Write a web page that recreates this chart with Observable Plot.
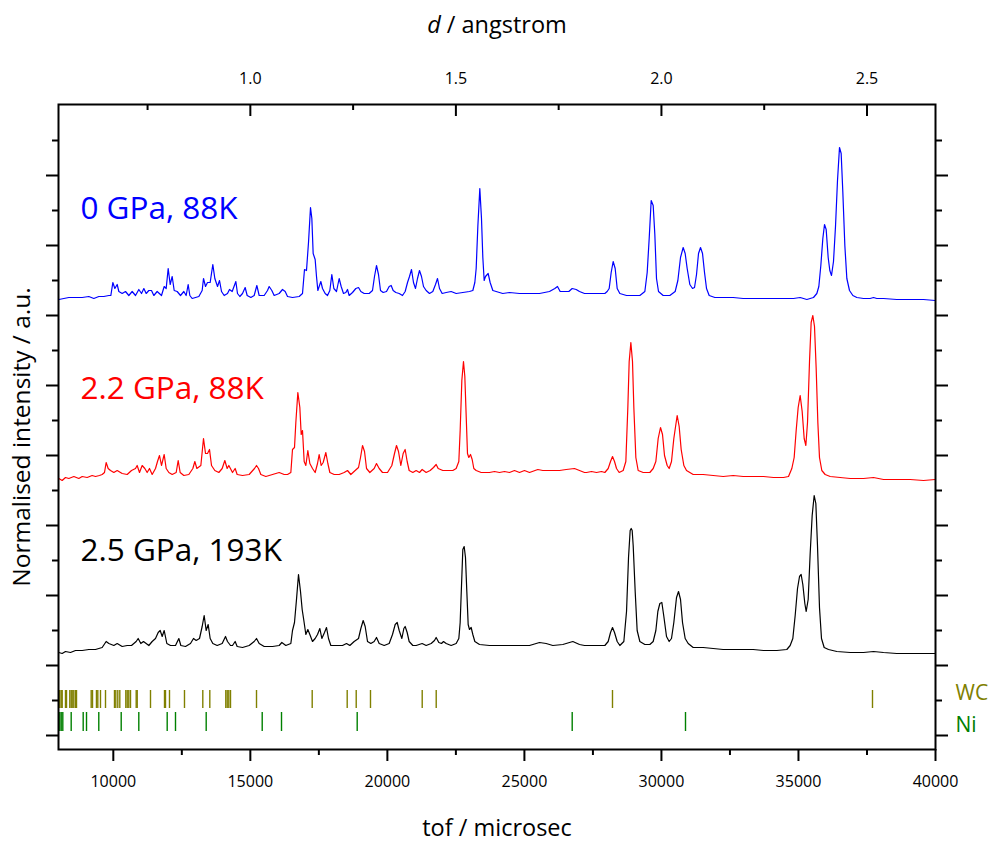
<!DOCTYPE html>
<html>
<head>
<meta charset="utf-8">
<script src="https://cdn.jsdelivr.net/npm/d3@7"></script>
<script src="https://cdn.jsdelivr.net/npm/@observablehq/plot@0.6"></script>
<style>
  html, body { margin: 0; padding: 0; background: #fff; }
  #chart svg { display: block; }
</style>
</head>
<body>
<div id="chart"></div>
<script>
// ---------- data ----------
// Series 1: 0 GPa, 88K (blue)
const tofBlue = [8012,8195,8377,8620,8864,9107,9289,9472,9654,9837,9910,9983,10056,10141,10202,10323,10445,10566,10688,10810,10931,11029,11114,11199,11296,11393,11479,11600,11758,11856,11929,12002,12075,12148,12221,12330,12452,12573,12658,12731,12792,12877,13121,13242,13291,13364,13437,13534,13631,13704,13802,13875,13948,14045,14166,14239,14337,
14471,14531,14617,14714,14811,14884,15018,15140,15237,15322,15505,15626,15687,15784,15869,16052,16173,16271,16356,16538,16782,16903,16976,17049,17122,17195,17244,17292,17365,17414,17463,17511,17572,17633,17730,17815,17901,17973,18047,18144,18241,18314,18399,18484,18545,18606,18728,18849,18947,19032,19153,19336,19457,19530,19603,19676,19749,19847,19968,20066,20138,20211,20309,20431,20552,20649,20735,
20807,20880,20953,21026,21099,21172,21245,21318,21415,21537,21658,21756,21829,21902,21999,22145,22327,22510,22753,22996,23118,23191,23240,23301,23373,23434,23483,23532,23580,23677,23750,23848,23969,24210,24456,24821,25186,25551,25915,26110,26207,26305,26463,26621,26743,26889,27010,27193,
27266,27631,27935,28020,28093,28166,28239,28312,28385,28482,28726,28969,29212,29395,29480,29553,29626,29699,29759,29820,29893,30063,30307,30501,30599,30696,30793,30866,30939,31036,31134,31207,31280,31353,31426,31499,31572,31645,31742,31949,32253,32618,32983,33348,
33724,34089,34454,34819,35062,35305,35548,35670,35743,35816,35889,35950,36011,36084,36144,36205,36278,36351,36424,36497,36558,36619,36692,36765,36862,36984,37130,37373,37616,37738,37859,38103,38589,39076,39562,39988];
const intBlue = [436,437,438,438,438,439,437,439,439,440,440,453,447,451,444,442,444,440,444,440,446,442,447,442,445,445,440,444,440,449,447,467,451,459,445,444,440,444,440,451,440,437,439,445,457,449,453,453,471,457,449,455,444,440,442,446,444,
454,442,439,442,448,440,438,440,450,440,440,445,449,445,440,442,446,444,439,438,439,442,466,465,493,528,517,482,476,459,445,449,454,447,442,440,445,461,447,444,457,449,442,443,446,440,443,447,448,444,442,442,445,459,470,461,445,443,444,449,450,445,443,442,440,444,453,
459,466,453,447,457,465,459,449,445,442,444,451,457,447,442,443,444,442,443,444,445,453,467,509,547,517,478,455,459,462,453,445,444,442,443,442,442,442,444,447,449,444,444,444,447,446,444,442,
442,442,442,444,447,463,474,467,447,442,440,440,440,444,463,497,535,530,501,457,444,440,440,444,455,478,488,482,467,451,447,448,461,482,488,482,463,447,440,438,438,438,437,437,
437,437,437,437,438,436,438,442,449,470,497,511,506,478,465,460,474,509,555,588,582,543,490,457,445,440,438,437,437,438,437,437,436,436,436,435];

// Series 2: 2.2 GPa, 88K (red)
const tofRed = [8012,8134,8255,8377,8560,8742,8864,9046,9228,9350,9496,9593,9678,9739,9812,9897,10019,10141,10323,10506,10664,10810,10870,10956,11053,11150,11235,11320,11418,11539,11612,11685,11758,11856,11929,12026,12148,12294,12367,12439,12573,12756,12902,12975,13048,13194,13291,13364,13437,13510,13583,13704,13850,13972,14069,14154,14215,
14349,14446,14519,14714,14957,15152,15225,15298,15383,15565,15809,16052,16234,16356,16478,16538,16611,16660,16733,16806,16855,16903,16964,17025,17098,17171,17268,17365,17451,17511,17584,17657,17755,17828,17901,18059,18241,18424,18545,18667,18825,18947,19020,19093,19166,19239,19360,19518,19603,19701,19822,20005,20163,20260,20333,20406,20491,20576,20649,20722,20795,
20929,21050,21172,21269,21415,21561,21683,21780,21853,22023,22206,22388,22510,22607,22656,22717,22777,22826,22875,22923,22972,23033,23094,23154,23240,23422,23726,23909,24091,24273,24456,24638,24821,25003,25186,25490,25672,25915,26280,26524,26828,27010,27193,
27266,27448,27631,27813,27935,28057,28142,28215,28288,28361,28458,28604,28701,28774,28823,28884,28944,28993,29066,29151,29334,29577,29699,29796,29881,29966,30039,30112,30209,30282,30367,30452,30574,30647,30720,30818,30915,31158,31523,31888,32253,32618,32983,33348,
33724,34089,34454,34636,34758,34843,34916,34989,35062,35135,35208,35269,35330,35403,35463,35524,35585,35646,35707,35767,35852,35974,36157,36521,36886,37373,37738,38103,38589,39076,39562,39988];
const intRed = [257,255,258,257,259,257,259,258,260,259,260,261,263,273,267,265,263,265,262,261,265,267,270,263,270,267,263,267,261,267,274,280,270,281,267,263,261,263,275,263,260,261,267,274,267,270,297,282,282,286,270,265,263,267,275,267,270,
263,267,261,260,261,267,270,267,261,259,261,263,261,261,263,286,288,313,343,328,301,305,274,270,285,272,267,263,272,281,270,273,283,272,263,261,261,263,265,261,265,268,278,290,284,267,263,267,272,267,263,263,270,282,290,284,270,282,286,274,265,
263,265,263,266,263,265,268,271,267,265,265,265,267,274,305,355,374,359,320,282,278,281,276,267,265,263,263,264,263,264,263,265,263,265,263,266,265,265,265,266,267,265,263,
263,264,263,264,263,267,274,279,274,267,263,265,274,328,374,393,374,328,278,265,263,263,267,274,297,308,301,280,270,267,274,297,320,309,286,270,265,261,261,260,259,260,259,259,
259,258,258,259,267,278,305,328,340,324,297,290,313,374,413,420,409,367,313,278,265,261,259,258,257,257,258,256,256,256,255,256];

// Series 3: 2.5 GPa, 193K (black)
const tofBlack = [8012,8134,8255,8438,8620,8864,9107,9350,9593,9739,9837,10019,10141,10323,10506,10664,10834,10907,11004,11101,11199,11296,11418,11539,11637,11710,11783,11856,11953,12087,12269,12391,12464,12634,12816,12926,13023,13145,13242,13315,13388,13461,13534,13631,13790,13972,14094,14166,14276,
14349,14446,14519,14714,14957,15140,15225,15322,15505,15809,16052,16149,16295,16478,16538,16611,16684,16757,16830,16891,16952,17025,17098,17171,17268,17365,17451,17536,17609,17706,17779,17852,17937,18119,18363,18509,18630,18788,18947,19032,19117,19190,19275,19397,19518,19603,19701,19883,20066,20187,20285,20358,20431,20528,20601,20649,20722,20795,
20929,21050,21269,21415,21598,21719,21780,21877,21975,22048,22145,22327,22510,22607,22656,22717,22753,22802,22850,22899,22948,22996,23057,23118,23191,23361,23726,24091,24456,24821,25186,25551,25794,26037,26402,26767,27010,27193,
27266,27631,27935,28057,28142,28215,28288,28385,28482,28628,28726,28799,28859,28896,28932,28969,29042,29114,29212,29395,29577,29699,29796,29869,29942,30015,30088,30185,30282,30367,30452,30550,30623,30696,30769,30866,30976,31158,31523,31888,32253,32618,32983,33348,
33724,34211,34575,34697,34794,34880,34965,35038,35098,35159,35232,35281,35354,35427,35500,35573,35634,35694,35767,35840,35938,36096,36400,36886,37373,37738,38103,38589,39076,39562,39988];
const intBlack = [83,82,84,83,85,85,86,86,88,94,92,90,92,89,90,90,94,97,92,94,92,90,94,97,103,105,99,105,92,90,90,97,90,89,92,97,95,97,109,120,105,111,97,92,90,92,99,94,90,
90,94,89,88,90,94,97,92,89,89,90,93,90,92,105,113,136,161,144,126,115,101,106,101,94,97,101,107,97,103,108,97,90,90,90,92,90,94,97,107,115,109,94,92,94,98,92,90,92,101,111,113,105,97,107,109,103,94,
90,90,92,90,92,95,98,93,92,94,92,90,92,97,113,159,186,189,178,144,111,106,108,101,94,91,90,90,90,90,90,93,92,90,91,94,91,90,
90,90,90,94,103,108,103,94,90,94,124,178,205,207,205,190,144,105,94,91,91,94,105,124,132,133,119,99,94,97,113,138,144,136,113,97,92,88,88,87,86,86,86,86,
85,85,86,90,97,120,147,159,161,151,132,124,136,182,220,240,232,190,128,97,88,86,84,83,83,84,83,82,82,82,82];

// Reflection markers (tof positions)
const wcTof = [8011,8047,8099,8135,8255,8292,8412,8463,8500,8558,8620,8657,9193,9241,9385,9434,9532,9715,10043,10091,10164,10237,10456,10507,10565,10627,10835,10872,11357,11868,11904,12050,12597,13265,13521,14104,14156,14214,14276,15225,17257,18534,18863,19384,21271,21782,28214,37701];
const niTof = [8047,8099,8157,8463,8901,9022,9470,10288,10930,11966,12269,13389,15433,16137,18899,26744,30878];

// Axis ticks and labels
const xTicks = [10000, 15000, 20000, 25000, 30000, 35000, 40000];
const xMinorTicks = [12500, 17500, 22500, 27500, 32500, 37500];
const dTicks = [1.0, 1.5, 2.0, 2.5];
const dMinorTicks = [0.75, 1.25, 1.75, 2.25];
const yMajorTicks = [0, 70, 140, 210, 280, 350, 420, 490, 560];
const yMinorTicks = [35, 105, 175, 245, 315, 385, 455, 525, 595];
const seriesNames = ["0 GPa, 88K", "2.2 GPa, 88K", "2.5 GPa, 193K"];
const phaseNames = ["WC", "Ni"];

// ---------- chart ----------
const TOF_PER_ANGSTROM = 15000;
const FONT = "'Open Sans', 'DejaVu Sans', sans-serif";
const colors = ["#0000ff", "#ff0000", "#000000"];
const phaseColors = ["#808000", "#008000"];
const toRows = (t, v) => t.map((x, i) => ({tof: x, int: v[i]}));
const series = [toRows(tofBlue, intBlue), toRows(tofRed, intRed), toRows(tofBlack, intBlack)];

const marginTop = 104, marginBottom = 96, marginLeft = 58, marginRight = 59;
const plotH = 845 - marginTop - marginBottom;

const labelAnchors = [{tof: 8800, int: 527}, {tof: 8800, int: 347}, {tof: 8800, int: 185}];
const TITLE_SIZE = 23.5;

const chart = Plot.plot({
  width: 994,
  height: 845,
  marginTop, marginBottom, marginLeft, marginRight,
  style: {fontFamily: FONT, fontSize: "16px", color: "#000", background: "#fff"},
  x: {domain: [8000, 40000], axis: null, label: null},
  y: {domain: [-14, 631], axis: null, label: null},
  marks: [
    // diffraction patterns
    ...series.map((rows, i) => Plot.line(rows, {x: "tof", y: "int", stroke: colors[i], strokeWidth: 1.2})),
    // reflection markers
    Plot.ruleX(wcTof, {x: d => d, y1: 27, y2: 45, stroke: phaseColors[0], strokeWidth: 1.4}),
    Plot.ruleX(niTof, {x: d => d, y1: 4, y2: 23, stroke: phaseColors[1], strokeWidth: 1.4}),
    // frame
    Plot.frame({stroke: "#000", strokeWidth: 2}),
    // bottom axis (tof)
    Plot.axisX(xTicks, {anchor: "bottom", tickSize: 12, strokeWidth: 2, tickPadding: 14, fontSize: 16, tickFormat: d3.format("d"), label: null}),
    Plot.axisX(xMinorTicks, {anchor: "bottom", tickSize: 6, strokeWidth: 2, tickFormat: () => "", label: null}),
    // top axis (d spacing) - labels outside, ticks inward
    Plot.axisX(dTicks.map(d => d * TOF_PER_ANGSTROM), {anchor: "top", tickSize: 0, tickPadding: 21, fontSize: 16, tickFormat: t => (t / TOF_PER_ANGSTROM).toFixed(1), label: null}),
    Plot.tickX(dTicks.map(d => d * TOF_PER_ANGSTROM), {x: d => d, insetBottom: plotH - 12, strokeWidth: 2}),
    Plot.tickX(dMinorTicks.map(d => d * TOF_PER_ANGSTROM), {x: d => d, insetBottom: plotH - 6, strokeWidth: 2}),
    // left & right axes (ticks only)
    Plot.axisY(yMajorTicks, {anchor: "left", tickSize: 12, strokeWidth: 2, tickFormat: () => "", label: null}),
    Plot.axisY(yMinorTicks, {anchor: "left", tickSize: 6, strokeWidth: 2, tickFormat: () => "", label: null}),
    Plot.axisY(yMajorTicks, {anchor: "right", tickSize: 12, strokeWidth: 2, tickFormat: () => "", label: null}),
    Plot.axisY(yMinorTicks, {anchor: "right", tickSize: 6, strokeWidth: 2, tickFormat: () => "", label: null}),
    // axis titles
    Plot.text(["tof / microsec"], {frameAnchor: "bottom", dy: 79, textAnchor: "middle", lineAnchor: "middle", fontSize: TITLE_SIZE, fill: "#000"}),
    Plot.text(["d / angstrom"], {frameAnchor: "top", dy: -79, textAnchor: "middle", lineAnchor: "middle", fontSize: TITLE_SIZE, fill: "#000"}),
    Plot.text(["Normalised intensity / a.u."], {frameAnchor: "left", dx: -36, dy: 10, rotate: -90, textAnchor: "middle", lineAnchor: "middle", fontSize: 24.5, fill: "#000"}),
    // series labels
    Plot.text(seriesNames, {x: (d, i) => labelAnchors[i].tof, y: (d, i) => labelAnchors[i].int, text: d => d, fill: (d, i) => colors[i], textAnchor: "start", lineAnchor: "middle", fontSize: 31.5}),
    // phase labels
    Plot.text([phaseNames[0]], {frameAnchor: "right", y: 42, dx: 20, textAnchor: "start", lineAnchor: "middle", fill: phaseColors[0], fontSize: 21}),
    Plot.text([phaseNames[1]], {frameAnchor: "right", y: 10, dx: 20, textAnchor: "start", lineAnchor: "middle", fill: phaseColors[1], fontSize: 21})
  ]
});

document.getElementById("chart").appendChild(chart);

// italic "d" in the top title
chart.querySelectorAll("text").forEach(t => {
  if (t.textContent === "d / angstrom") {
    t.textContent = "";
    const ns = "http://www.w3.org/2000/svg";
    const a = document.createElementNS(ns, "tspan");
    a.setAttribute("font-style", "italic");
    a.textContent = "d";
    const b = document.createElementNS(ns, "tspan");
    b.textContent = " / angstrom";
    t.appendChild(a); t.appendChild(b);
  }
});
</script>
</body>
</html>
